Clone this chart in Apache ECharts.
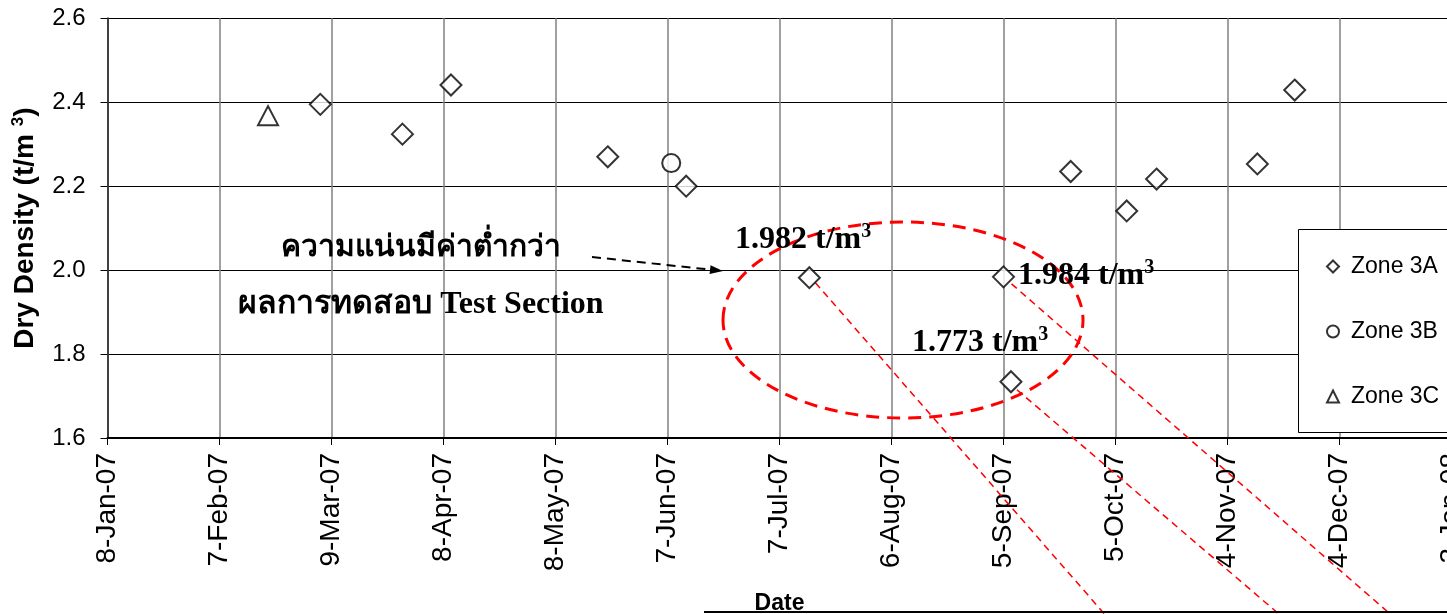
<!DOCTYPE html>
<html>
<head>
<meta charset="utf-8">
<script src="https://cdn.jsdelivr.net/npm/echarts@6/dist/echarts.min.js"></script>
<style>
html,body{margin:0;padding:0;background:#fff;}
#chart{width:1447px;height:614px;}
</style>
</head>
<body>
<div id="chart"></div>
<script>
// ---- Data ----
const zone3A_dates = ['2007-03-06','2007-03-28','2007-04-10','2007-05-22','2007-06-12','2007-07-15','2007-09-05','2007-09-07','2007-09-23','2007-10-08','2007-10-16','2007-11-12','2007-11-22'];
const zone3A_values = [2.395,2.324,2.441,2.270,2.200,1.982,1.984,1.734,2.235,2.141,2.217,2.253,2.429];
const zone3B_dates = ['2007-06-08'];
const zone3B_values = [2.255];
const zone3C_dates = ['2007-02-20'];
const zone3C_values = [2.368];
const seriesNames = ['Zone 3A','Zone 3B','Zone 3C'];
const xStart = '2007-01-08', xEnd = '2008-01-03';
const yTicks = [1.6, 2.6, 0.2]; // min, max, step
const annotNote = ['ความแน่นมีค่าต่ำกว่า', 'ผลการทดสอบ Test Section'];
const annotValues = ['1.982', '1.984', '1.773'];
const monthNames = ['Jan','Feb','Mar','Apr','May','Jun','Jul','Aug','Sep','Oct','Nov','Dec'];

const EXCEL0 = Date.UTC(1899, 11, 30);
function toSerial(s) {
  const p = s.split('-').map(Number);
  return Math.round((Date.UTC(p[0], p[1]-1, p[2]) - EXCEL0) / 86400000);
}
function fmtSerial(v) {
  const d = new Date(EXCEL0 + v * 86400000);
  return d.getUTCDate() + '-' + monthNames[d.getUTCMonth()] + '-' + String(d.getUTCFullYear()).slice(2);
}
function pairs(dates, vals) { return dates.map((d, i) => [toSerial(d), vals[i]]); }

const chart = echarts.init(document.getElementById('chart'));
const markerStyle = { color: '#fff', borderColor: '#000', borderWidth: 2 };
const AR = "Arial, 'Liberation Sans', sans-serif";
const TR = "'Times New Roman', 'Liberation Serif', serif";

chart.setOption({
  animation: false,
  backgroundColor: '#fff',
  grid: { left: 107.5, top: 18.3, width: 1344, height: 419.7, containLabel: false, outerBoundsMode: 'none' },
  xAxis: {
    type: 'value', min: toSerial(xStart), max: toSerial(xEnd), interval: 30,
    name: 'Date', nameLocation: 'middle', nameGap: 154,
    nameTextStyle: { fontFamily: AR, fontWeight: 'bold', fontSize: 23, color: '#000' },
    axisLine: { show: true, lineStyle: { color: '#000', width: 2 } },
    axisTick: { show: true, length: 7, lineStyle: { color: '#000', width: 1 } },
    axisLabel: { rotate: 90, margin: 15, fontFamily: AR, fontSize: 28, color: '#000', formatter: fmtSerial, showMaxLabel: true, showMinLabel: true, hideOverlap: false },
    splitLine: { show: true, lineStyle: { color: '#808080', width: 1.5 } }
  },
  yAxis: {
    type: 'value', min: yTicks[0], max: yTicks[1], interval: yTicks[2],
    name: '{a|Dry Density (t/m }{s|3}{a|)}', nameLocation: 'middle', nameGap: 66, nameRotate: 90,
    nameTextStyle: { rich: {
      a: { fontFamily: AR, fontWeight: 'bold', fontSize: 28, color: '#000' },
      s: { fontFamily: AR, fontWeight: 'bold', fontSize: 17, color: '#000', verticalAlign: 'top', lineHeight: 32 }
    } },
    axisLine: { show: true, lineStyle: { color: '#404040', width: 2 } },
    axisTick: { show: true, length: 7, lineStyle: { color: '#000', width: 1 } },
    axisLabel: { margin: 22, fontFamily: AR, fontSize: 24, color: '#000', formatter: v => v.toFixed(1) },
    splitLine: { show: true, lineStyle: { color: '#000', width: 1 } }
  },
  legend: {
    orient: 'vertical', left: 1321, top: 250, itemWidth: 12, itemHeight: 12, itemGap: 42,
    textStyle: { fontFamily: AR, fontSize: 23, color: '#000', padding: [0, 0, 0, 7] },
    data: seriesNames
  },
  series: [
    { name: seriesNames[0], type: 'scatter', symbol: 'diamond', symbolSize: [21, 21], itemStyle: markerStyle, data: pairs(zone3A_dates, zone3A_values), z: 5 },
    { name: seriesNames[1], type: 'scatter', symbol: 'circle', symbolSize: 18, itemStyle: markerStyle, data: pairs(zone3B_dates, zone3B_values), z: 5 },
    { name: seriesNames[2], type: 'scatter', symbol: 'triangle', symbolSize: [20, 19], itemStyle: markerStyle, data: pairs(zone3C_dates, zone3C_values), z: 5 }
  ]
});

// ---- annotations placed relative to data points ----
const pA = pairs(zone3A_dates, zone3A_values);
const p1 = chart.convertToPixel({ gridIndex: 0 }, pA[5]);
const p2 = chart.convertToPixel({ gridIndex: 0 }, pA[6]);
const p3 = chart.convertToPixel({ gridIndex: 0 }, pA[7]);
function calloutLine(p, dx, dy, slope) {
  const x0 = p[0] + dx, y0 = p[1] + dy, y1 = 640;
  return { type: 'line', z: 1, silent: true,
    shape: { x1: x0, y1: y0, x2: x0 + (y1 - y0) / slope, y2: y1 },
    style: { stroke: '#ff0000', lineWidth: 1.5, lineDash: [7, 5] } };
}
function valText(txt, x, y) {
  return { type: 'text', z: 10, left: x, top: y, silent: true,
    style: { text: '{b|' + txt + ' t/m}{s|3}', rich: {
      b: { fontFamily: TR, fontWeight: 'bold', fontSize: 32, fill: '#000', lineHeight: 36 },
      s: { fontFamily: TR, fontWeight: 'bold', fontSize: 20, fill: '#000', verticalAlign: 'top', lineHeight: 36 }
    } } };
}
const ax = 592, ay = 257, bx = 723, by = 271;
const L = Math.hypot(bx-ax, by-ay), ux = (bx-ax)/L, uy = (by-ay)/L;
const hx = bx - 13*ux, hy = by - 13*uy;

chart.setOption({
  graphic: [
    { type: 'ellipse', z: 1, silent: true, shape: { cx: 903, cy: 320, rx: 180, ry: 98 },
      style: { fill: 'none', stroke: '#ff0000', lineWidth: 3, lineDash: [13, 8] } },
    calloutLine(p1, 6, 5, 1.146),
    calloutLine(p2, 8, 7, 0.872),
    calloutLine(p3, 6, 8, 0.856),
    { type: 'line', z: 1, silent: true, shape: { x1: ax, y1: ay, x2: hx, y2: hy },
      style: { stroke: '#000', lineWidth: 2, lineDash: [9, 6] } },
    { type: 'polygon', z: 1, silent: true,
      shape: { points: [[bx, by], [hx - 4.5*uy, hy + 4.5*ux], [hx + 4.5*uy, hy - 4.5*ux]] },
      style: { fill: '#000' } },
    { type: 'text', z: 10, silent: true, x: 421, y: 248,
      style: { text: annotNote[0], font: 'bold 30px ' + TR, fill: '#000', align: 'center', verticalAlign: 'middle' } },
    { type: 'text', z: 10, silent: true, x: 421, y: 305,
      style: { text: annotNote[1], font: 'bold 32px ' + TR, fill: '#000', align: 'center', verticalAlign: 'middle' } },
    valText(annotValues[0], 735, 222),
    valText(annotValues[1], 1018, 258),
    valText(annotValues[2], 912, 325),
    { type: 'rect', z: 3, silent: true, shape: { x: 1298.5, y: 229.5, width: 200, height: 203 },
      style: { fill: '#fff', stroke: '#000', lineWidth: 1 } },
    { type: 'line', z: 3, silent: true, shape: { x1: 704, y1: 612, x2: 1460, y2: 612 },
      style: { stroke: '#000', lineWidth: 2 } }
  ]
});
</script>
</body>
</html>
